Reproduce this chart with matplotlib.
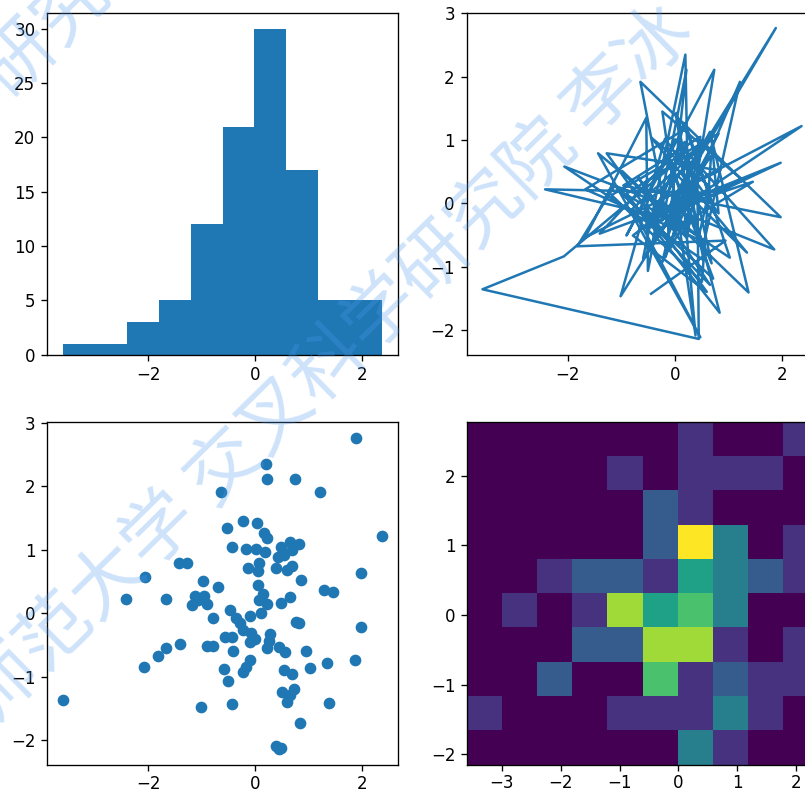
import matplotlib
matplotlib.use("Agg")
import matplotlib.pyplot as plt
import numpy as np

# 100 paired samples, listed in acquisition order
x = [0.05, 0.76, 0.17, -0.23, 1.89, 0.39, -0.47, 1.86, 0.01, -0.90,
     0.74, 0.23, -0.98, 1.38, 0.66, -0.10, -2.06, 0.54, 0.03, 0.28,
     -2.42, 0.48, -0.10, 0.48, -0.96, 1.98, -0.64, -0.10, 0.60, -1.01,
     -0.18, 0.82, 0.69, -0.90, 0.84, 0.08, -0.44, 2.37, 0.08, -0.23,
     1.22, 0.55, -1.67, 0.23, 1.03, -0.35, 0.05, -2.07, -3.59, 0.45,
     0.42, -0.57, 1.98, 0.11, -0.59, 0.20, 0.26, -1.06, 0.72, -0.13,
     0.69, 0.19, -1.40, 1.28, -0.23, 0.39, 0.14, -0.08, 0.82, -1.18,
     0.51, 0.68, -0.41, 0.22, -0.17, 0.54, -0.78, 0.48, -1.43, 0.45,
     0.66, -0.44, 1.35, 0.23, -0.78, 0.60, -1.27, 0.85, -1.67, -0.53,
     -0.50, -0.29, 1.46, 0.00, -0.69, 0.66, -1.12, -1.82, 0.95, -0.44]
y = [0.44, -0.14, 1.27, -0.27, 2.77, 0.71, 0.06, -0.73, 1.01, -0.51,
     2.11, -0.55, 0.51, -1.41, 1.13, -0.05, 0.58, -0.90, 1.43, -0.32,
     0.22, 0.17, -0.74, 1.05, 0.28, -0.22, 1.92, -0.45, 0.69, -1.47,
     1.02, -0.16, 1.00, 0.15, -1.73, 0.79, -0.38, 1.22, 0.21, -0.93,
     1.92, -0.61, 0.22, 1.19, -0.86, -0.08, 0.66, -0.84, -1.36, -2.145,
     0.89, -0.38, 0.64, 0.00, -0.87, 2.35, -0.43, 0.21, -1.19, 0.71,
     -0.95, 0.97, -0.48, 0.36, 1.45, -2.09, 0.30, -0.31, 1.10, 0.13,
     -1.24, 0.75, -0.60, 2.11, -0.85, 0.92, -0.08, -2.12, 0.79, -0.53,
     0.26, 1.04, -0.78, 0.15, -0.51, -1.40, 0.79, 0.52, -0.54, 1.35,
     -1.07, -0.16, 0.34, -0.40, 0.42, -1.29, 0.28, -0.68, -0.59, -1.43]

x = np.array(x)
y = np.array(y)

W, H = 805, 793
fig = plt.figure(figsize=(W / 120, H / 120), dpi=120)


def box(left, top, right, bottom):
    """Axes rectangle from pixel edges (origin at top-left)."""
    return [left / W, 1 - bottom / H, (right - left) / W, (bottom - top) / H]


ax_hist = fig.add_axes(box(47, 12.5, 398, 354.5))
ax_line = fig.add_axes(box(466.5, 12.5, 817.5, 354.5))
ax_scat = fig.add_axes(box(47, 422, 398, 765))
ax_h2d = fig.add_axes(box(467, 422, 818, 764.5))

ax_hist.hist(x)
ax_hist.set_xticks([-2, 0, 2])

ax_line.plot(x, y)
ax_line.set_xticks([-2, 0, 2])
ax_line.set_yticks([-2, -1, 0, 1, 2, 3])

ax_scat.scatter(x, y)
ax_scat.set_xticks([-2, 0, 2])
ax_scat.set_yticks([-2, -1, 0, 1, 2, 3])

ax_h2d.hist2d(x, y)
ax_h2d.set_xticks([-3, -2, -1, 0, 1, 2])
ax_h2d.set_yticks([-2, -1, 0, 1, 2])

for a in (ax_scat, ax_h2d):
    a.tick_params(axis="x", pad=2.5)

# diagonal watermark
wm = "北京师范大学 交叉科学研究院 李冰"
for cx, cy in [(0.345, 0.475), (-0.17, 0.73)]:
    fig.text(cx, cy, wm, rotation=44.5, rotation_mode="anchor",
             ha="center", va="center", fontsize=44,
             family=["Noto Sans CJK SC", "DejaVu Sans"],
             color="#4f9cf0", alpha=0.28, zorder=10)

fig.savefig("out.png", dpi=120)
